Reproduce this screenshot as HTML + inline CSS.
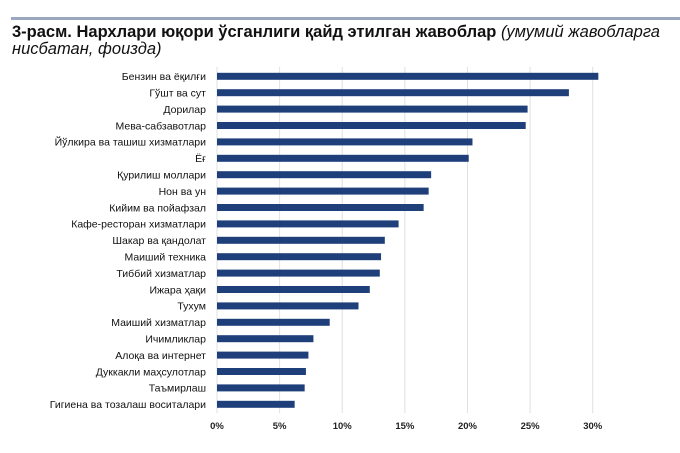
<!DOCTYPE html>
<html><head><meta charset="utf-8"><style>
body{margin:0;width:680px;height:453px;background:#fff;font-family:"Liberation Sans",sans-serif;overflow:hidden;position:relative}
#rule{position:absolute;left:11px;top:17px;width:669px;height:3px;background:#9aa8bf}
#title{position:absolute;left:12px;top:24px;width:668px;font-size:16.5px;line-height:17px;color:#111}
#title b{font-weight:bold}#title i{font-weight:normal}
svg{position:absolute;left:0;top:0}
</style></head><body>
<div id="rule"></div>
<div id="title"><b>3-расм. Нархлари юқори ўсганлиги қайд этилган жавоблар</b> <i>(умумий жавобларга нисбатан, фоизда)</i></div>
<svg id="c" width="680" height="453"></svg>
<script>
const categories=["Бензин ва ёқилғи","Гўшт ва сут","Дорилар","Мева-сабзавотлар","Йўлкира ва ташиш хизматлари","Ёғ","Қурилиш моллари","Нон ва ун","Кийим ва пойафзал","Кафе-ресторан хизматлари","Шакар ва қандолат","Маиший техника","Тиббий хизматлар","Ижара ҳақи","Тухум","Маиший хизматлар","Ичимликлар","Алоқа ва интернет","Дуккакли маҳсулотлар","Таъмирлаш","Гигиена ва тозалаш воситалари"];
const values=[30.45,28.1,24.8,24.65,20.4,20.1,17.1,16.9,16.5,14.5,13.4,13.1,13.0,12.2,11.3,9.0,7.7,7.3,7.1,7.0,6.2];
const ticks=[0,5,10,15,20,25,30];
const tickLabels=["0%","5%","10%","15%","20%","25%","30%"];
const svg=document.getElementById('c');const NS="http://www.w3.org/2000/svg";
const x=v=>217+v*(592.7-217)/30;
const y=i=>76.3+i*16.4;
function mk(t,a){const e=document.createElementNS(NS,t);for(const k in a)e.setAttribute(k,a[k]);svg.appendChild(e);return e;}
ticks.forEach((t,i)=>{
 const g=mk('line',{x1:x(t),x2:x(t),y1:67,y2:413,stroke:'#e0e0e0','stroke-width':1});
 
 
 const l=mk('text',{x:x(t),y:429,'text-anchor':'middle','font-size':9.5,'font-weight':'bold',fill:'#222'});
 l.textContent=tickLabels[i];
 
 
});
categories.forEach((c,i)=>{
 const b=mk('rect',{x:x(0),y:y(i)-3.5,width:x(values[i])-x(0),height:7,fill:'#1f3f7a'});
 
 
 const t=mk('text',{x:206,y:y(i)+3.8,'text-anchor':'end','font-size':10.5,fill:'#111'});
 t.textContent=c;
 
 
});
</script>
</body></html>
